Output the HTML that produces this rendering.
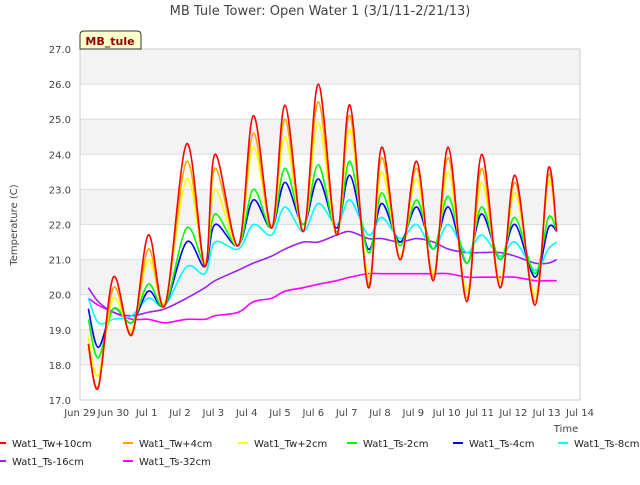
<!DOCTYPE html>
<html><head><meta charset="utf-8"><style>
body{margin:0;background:#fff;width:640px;height:480px;overflow:hidden;font-family:"Liberation Sans",sans-serif}
svg text{font-family:"DejaVu Sans","Liberation Sans",sans-serif}
</style></head><body>
<svg id="c" width="640" height="480">
<g id="bands"></g><g id="grid"></g>
<rect x="80" y="49" width="500" height="351" fill="none" stroke="#ccc"/>
<g id="series"></g><g id="axes"></g>
<text x="320" y="15" text-anchor="middle" font-size="13" fill="#444">MB Tule Tower: Open Water 1 (3/1/11-2/21/13)</text>
<text transform="translate(17,225) rotate(-90)" text-anchor="middle" font-size="10" fill="#444">Temperature (C)</text>
<text x="566" y="432" text-anchor="middle" font-size="10" fill="#444">Time</text>
<path d="M80,49 L80,35 Q80,31 84,31 L137,31 Q141,31 141,35 L141,49 Z" fill="#ffffcc" stroke="#333"/>
<text x="110" y="45" text-anchor="middle" font-size="11" font-weight="bold" fill="#8b0000">MB_tule</text>
<g id="legend"></g>
</svg>
<script>
const times=[0.25,0.55,1.0,1.55,2.05,2.55,3.2,3.75,4.05,4.75,5.2,5.75,6.15,6.7,7.15,7.7,8.1,8.65,9.05,9.6,10.1,10.6,11.05,11.6,12.05,12.6,13.05,13.65,14.05,14.3];
const tw10=[18.6,17.35,20.5,18.85,21.7,19.7,24.3,20.8,24.0,21.4,25.1,21.9,25.4,21.8,26.0,21.7,25.4,20.2,24.2,21.0,23.8,20.4,24.2,19.8,24.0,20.2,23.4,19.7,23.6,21.8];
const tw4=[18.5,17.4,20.2,18.9,21.3,19.7,23.8,20.8,23.6,21.4,24.6,21.9,25.0,21.8,25.5,21.7,25.1,20.3,23.9,21.0,23.6,20.5,23.9,19.9,23.6,20.2,23.2,19.8,23.4,21.8];
const tw2=[18.8,17.7,19.9,19.0,21.0,19.8,23.3,20.9,23.0,21.4,24.2,21.9,24.5,21.8,24.9,21.7,24.7,20.5,23.5,21.1,23.3,20.6,23.5,20.1,23.2,20.4,22.9,20.0,23.2,21.8];
const ts2=[19.3,18.2,19.6,19.2,20.3,19.7,21.9,20.9,22.3,21.4,23.0,21.9,23.6,22.0,23.7,21.8,23.8,21.2,22.9,21.4,22.7,21.3,22.8,20.9,22.5,21.0,22.2,20.6,22.2,21.8];
const ts4=[19.6,18.5,19.6,19.2,20.1,19.7,21.5,20.8,22.0,21.4,22.7,21.9,23.2,22.0,23.3,21.9,23.4,21.3,22.6,21.5,22.5,21.3,22.5,20.9,22.3,21.0,22.0,20.5,21.9,21.8];
const ts8=[19.9,19.2,19.3,19.4,19.9,19.7,20.8,20.6,21.5,21.3,22.0,21.7,22.5,21.8,22.6,22.0,22.7,21.7,22.2,21.6,22.0,21.3,22.0,21.2,21.7,21.1,21.5,20.7,21.3,21.5];
const ts16=[20.2,19.8,19.5,19.4,19.5,19.6,19.9,20.2,20.4,20.7,20.9,21.1,21.3,21.5,21.5,21.7,21.8,21.6,21.6,21.5,21.6,21.5,21.3,21.2,21.2,21.2,21.1,20.9,20.9,21.0];
const ts32=[19.9,19.7,19.5,19.3,19.3,19.2,19.3,19.3,19.4,19.5,19.8,19.9,20.1,20.2,20.3,20.4,20.5,20.6,20.6,20.6,20.6,20.6,20.6,20.5,20.5,20.5,20.5,20.4,20.4,20.4];
const yTicks=[17,18,19,20,21,22,23,24,25,26,27];
const xTicks=["Jun 29","Jun 30","Jul 1","Jul 2","Jul 3","Jul 4","Jul 5","Jul 6","Jul 7","Jul 8","Jul 9","Jul 10","Jul 11","Jul 12","Jul 13","Jul 14"];
const names=["Wat1_Tw+10cm","Wat1_Tw+4cm","Wat1_Tw+2cm","Wat1_Ts-2cm","Wat1_Ts-4cm","Wat1_Ts-8cm","Wat1_Ts-16cm","Wat1_Ts-32cm"];
const colors=["#ff0000","#ffa500","#ffff00","#00ff00","#0000ff","#00ffff","#a020f0","#ff00ff"];
const data=[tw10,tw4,tw2,ts2,ts4,ts8,ts16,ts32];
const NS="http://www.w3.org/2000/svg";
const X=d=>80+d*500/15, Y=v=>400-(v-17)*351/10;
function mk(t,a,p){const e=document.createElementNS(NS,t);for(const k in a)e.setAttribute(k,a[k]);p.appendChild(e);return e;}
const bands=document.getElementById('bands'),grid=document.getElementById('grid'),axes=document.getElementById('axes');
for(let i=0;i<yTicks.length-1;i++){if(i%2===1){const r=mk('rect',{x:80,y:Y(yTicks[i+1]),width:500,height:Y(yTicks[i])-Y(yTicks[i+1]),fill:'#f3f3f3'},bands);

}}
yTicks.forEach(v=>{const l=mk('line',{x1:80,x2:580,y1:Y(v),y2:Y(v),stroke:'#ddd'},grid);


const t=mk('text',{x:71,y:Y(v)+4,'text-anchor':'end','font-size':10,fill:'#444'},axes);t.textContent=v.toFixed(1);

});
xTicks.forEach((s,i)=>{const t=mk('text',{x:X(i),y:416,'text-anchor':'middle','font-size':10,fill:'#444'},axes);t.textContent=s;

});
const sg=document.getElementById('series');
for(let s=data.length-1;s>=0;s--){const v=data[s];const pts=times.map((t,i)=>[X(t),Y(v[i])]);
let d='M'+pts[0][0]+','+pts[0][1];
for(let i=0;i<pts.length-1;i++){const p0=pts[Math.max(0,i-1)],p1=pts[i],p2=pts[i+1],p3=pts[Math.min(pts.length-1,i+2)];
d+=` C${p1[0]+(p2[0]-p0[0])/6},${p1[1]+(p2[1]-p0[1])/6} ${p2[0]-(p3[0]-p1[0])/6},${p2[1]-(p3[1]-p1[1])/6} ${p2[0]},${p2[1]}`;}
const p=mk('path',{d:d,fill:'none',stroke:colors[s],'stroke-width':1.6},sg);

}
const lg=document.getElementById('legend');
const lx=[-4,123,238,347,453,558];
names.forEach((n,i)=>{const row=i<6?0:1,col=i<6?i:i-6;const y=row?461:443;
const g=mk('g',{},lg);


mk('line',{x1:lx[col],x2:lx[col]+10,y1:y,y2:y,stroke:colors[i],'stroke-width':2},g);
const t=mk('text',{x:lx[col]+16,y:y+4,'font-size':10,fill:'#222'},g);t.textContent=n;});
</script>
</body></html>
